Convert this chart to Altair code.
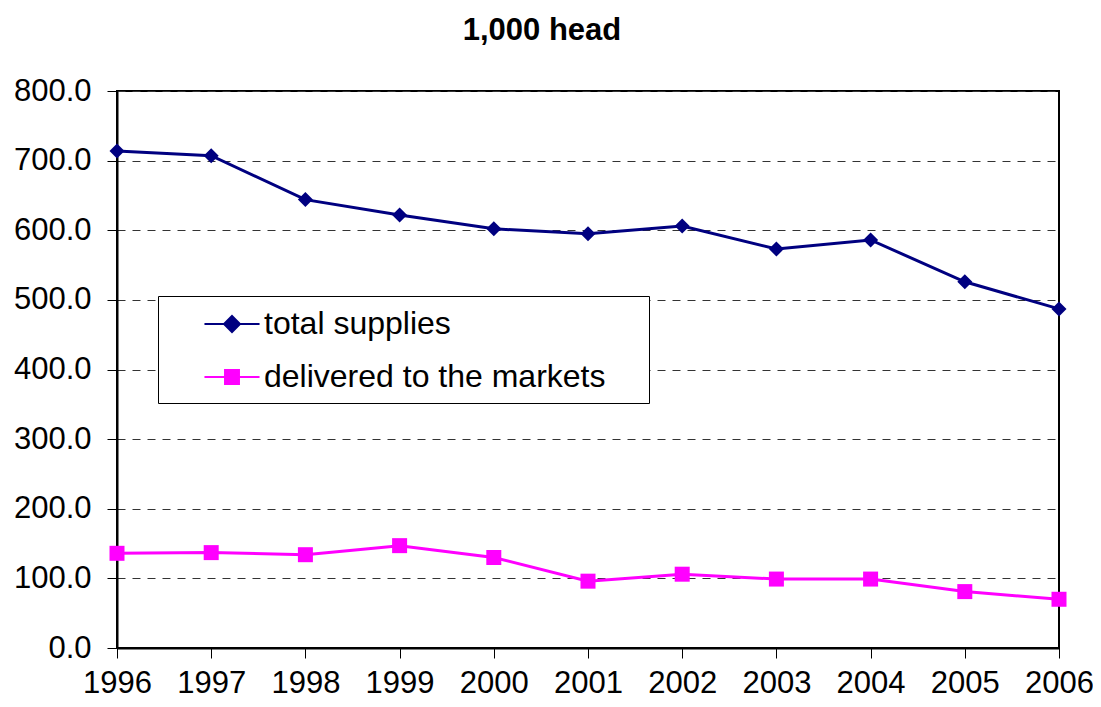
import altair as alt
import pandas as pd

years = [1996, 1997, 1998, 1999, 2000, 2001, 2002, 2003, 2004, 2005, 2006]
total_supplies = [714, 707, 644, 622, 602, 595, 606, 573, 586, 526, 487]
delivered = [136, 137, 134, 147, 130, 96, 106, 99, 99, 81, 70]
series_names = ["total supplies", "delivered to the markets"]
series_colors = ["#000080", "#FF00FF"]
y_ticks = [0, 100, 200, 300, 400, 500, 600, 700, 800]

rows = []
for y, v in zip(years, total_supplies):
    rows.append({"year": y, "value": v, "series": series_names[0]})
for y, v in zip(years, delivered):
    rows.append({"year": y, "value": v, "series": series_names[1]})
df = pd.DataFrame(rows)

FONT = "Liberation Sans"
W, H = 942, 557
PAD_L, PAD_T = 109, 83
TOTAL_W, TOTAL_H = 1085, 691

x_enc = alt.X("year:Q",
              scale=alt.Scale(domain=[years[0], years[-1]], nice=False, zero=False),
              axis=alt.Axis(values=years, format="d", title=None, grid=False,
                            labelFontSize=31, labelPadding=10, tickSize=10,
                            tickColor="#000", domainColor="#000", domainWidth=2,
                            labelColor="#000", labelFlush=False))
y_enc = alt.Y("value:Q",
              scale=alt.Scale(domain=[0, 800], nice=False),
              axis=alt.Axis(values=y_ticks, format=".1f", title=None,
                            labelFontSize=31, labelPadding=16, tickSize=10,
                            tickColor="#000", domainColor="#000", domainWidth=2,
                            labelColor="#000", grid=True, gridDash=[8, 7],
                            gridColor="#333", gridWidth=1))

base = alt.Chart(df)

layers = []
shapes = ["diamond", "square"]
for name, color, shp in zip(series_names, series_colors, shapes):
    sub = base.transform_filter(alt.datum.series == name)
    layers.append(sub.mark_line(color=color, strokeWidth=3).encode(x=x_enc, y=y_enc))
    layers.append(sub.mark_point(shape=shp, filled=True, size=225, opacity=1,
                                 color=color).encode(x=x_enc, y=y_enc))

legend_paths = [
    "M-1.62,0H1.62M0,-0.47L0.47,0L0,0.47L-0.47,0Z",
    "M-1.62,0H1.62M-0.41,-0.41H0.41V0.41H-0.41Z",
]
leg = alt.Legend(title=None, orient="none", legendX=41, legendY=205,
                 labelFontSize=32, labelFont=FONT, labelColor="#000",
                 labelExpr="datum.label + '\u00a0\u00a0\u00a0\u2009\u200b'",
                 symbolSize=1156, symbolStrokeWidth=2, symbolOffset=46,
                 symbolOpacity=1,
                 labelOffset=14, padding=10, rowPadding=19,
                 strokeColor="#000", fillColor="#fff", labelLimit=1000)
legend_layer = base.transform_filter("false").mark_point(filled=True, opacity=1).encode(
    x=x_enc, y=y_enc,
    fill=alt.Fill("series:N", scale=alt.Scale(domain=series_names, range=series_colors), legend=leg),
    stroke=alt.Stroke("series:N", scale=alt.Scale(domain=series_names, range=series_colors), legend=leg),
    shape=alt.Shape("series:N", scale=alt.Scale(domain=series_names, range=legend_paths), legend=leg),
)
layers.append(legend_layer)

chart = alt.layer(*layers).properties(
    width=W, height=H,
    title=alt.Title("1,000 head", fontSize=31, font=FONT, fontWeight="bold",
                    color="#000", anchor="middle", dx=-46, offset=28),
    autosize=alt.AutoSizeParams(type="none"),
    padding={"left": PAD_L, "top": PAD_T,
             "right": TOTAL_W - PAD_L - W, "bottom": TOTAL_H - PAD_T - H},
).configure(font=FONT).configure_view(stroke="#000", strokeWidth=2)

chart.save("out.html", embed_options={"renderer": "svg", "actions": False})
